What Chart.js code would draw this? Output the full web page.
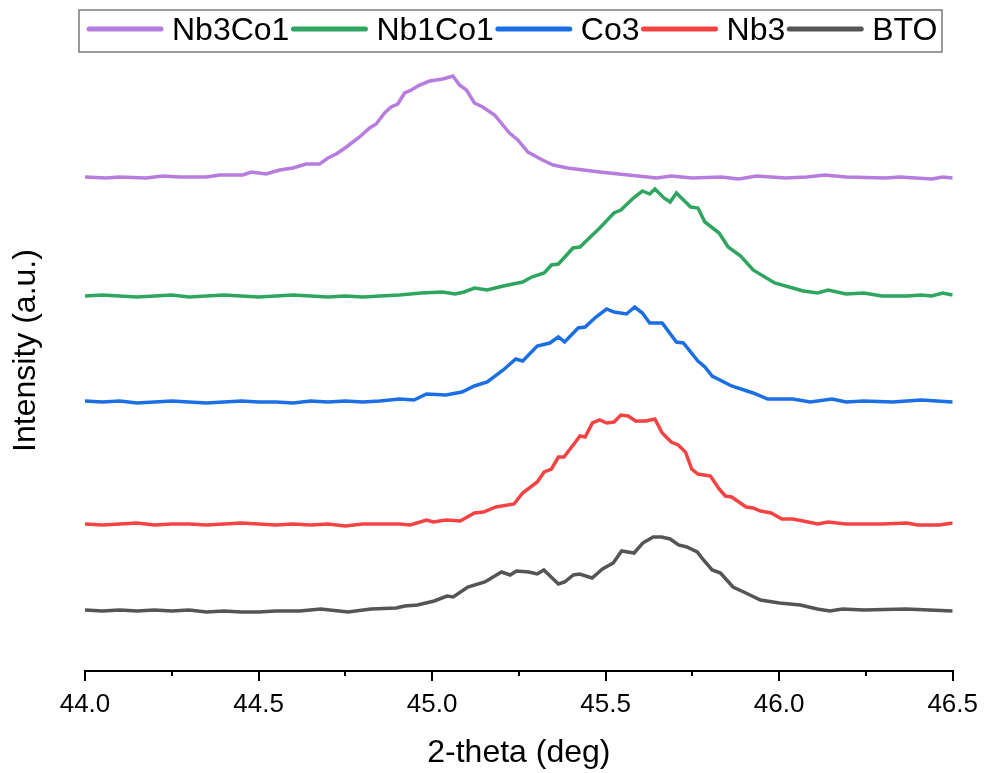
<!DOCTYPE html>
<html>
<head>
<meta charset="utf-8">
<script src="https://cdn.jsdelivr.net/npm/chart.js"></script>
<style>
  html, body { margin: 0; padding: 0; background: #fff; }
  #wrap { width: 986px; height: 773px; }
</style>
</head>
<body>
<div id="wrap"><canvas id="xrd" width="986" height="773"></canvas></div>
<script>
// --- data (2-theta in deg, intensity in a.u. with the stacking offset already in) ---
const seriesNames = ["Nb3Co1", "Nb1Co1", "Co3", "Nb3", "BTO"];
const seriesColors = ["#b67ddf", "#2fa660", "#1c6fe2", "#f44343", "#555555"];

const nb3co1X = [44.000,44.061,44.099,44.176,44.224,44.272,44.349,44.388,44.455,44.479,44.522,44.561,44.599,44.637,44.676,44.700,44.724,44.753,44.791,44.820,44.839,44.863,44.882,44.901,44.921,44.940,44.964,44.993,45.012,45.031,45.060,45.079,45.099,45.122,45.146,45.180,45.223,45.247,45.276,45.318,45.349,45.390,45.483,45.565,45.647,45.689,45.750,45.833,45.884,45.935,46.018,46.080,46.131,46.193,46.306,46.347,46.440,46.471,46.500];
const nb3co1Y = [494,493,494,493,495,494,494,496,496,499,497,501,503,507,507,513,517,524,534,543,547,558,564,567,578,581,586,590,591,592,595,586,581,568,564,556,538,531,519,511,506,503,499,496,493,495,493,494,492,495,493,494,496,494,493,494,492,494,493];

const nb1co1X = [44.00,44.05,44.10,44.15,44.20,44.25,44.30,44.35,44.40,44.45,44.50,44.55,44.60,44.65,44.70,44.75,44.80,44.85,44.906,44.968,45.030,45.066,45.092,45.122,45.159,45.205,45.261,45.287,45.323,45.344,45.364,45.406,45.426,45.483,45.524,45.544,45.580,45.606,45.627,45.642,45.668,45.686,45.704,45.745,45.766,45.786,45.827,45.853,45.889,45.925,45.987,46.039,46.069,46.111,46.141,46.193,46.244,46.296,46.368,46.409,46.440,46.471,46.500];
const nb1co1Y = [375,376,375,374,375,376,374,375,376,375,374,375,376,375,374,375,374,375,376,378,379,377,379,383,381,385,389,394,398,406,407,423,424,443,458,461,473,480,477,482,473,469,478,464,463,449,438,424,415,401,388,383,380,378,381,377,378,375,375,376,375,378,376];

const co3X = [44.00,44.05,44.10,44.15,44.20,44.25,44.30,44.35,44.40,44.45,44.50,44.55,44.60,44.65,44.70,44.75,44.80,44.85,44.906,44.948,44.984,45.040,45.086,45.122,45.159,45.205,45.241,45.261,45.303,45.339,45.364,45.382,45.421,45.441,45.472,45.503,45.524,45.560,45.584,45.606,45.627,45.663,45.704,45.724,45.766,45.786,45.807,45.863,45.925,45.967,46.039,46.090,46.152,46.193,46.244,46.327,46.409,46.500];
const co3Y = [270,269,270,268,269,270,269,268,269,270,269,269,268,270,269,270,269,270,272,271,277,276,279,285,289,301,312,310,325,328,334,329,343,344,354,362,359,357,364,358,348,348,329,328,310,304,295,285,278,272,272,269,272,269,270,269,271,269];

const nb3X = [44.00,44.05,44.10,44.15,44.20,44.25,44.30,44.35,44.40,44.45,44.50,44.55,44.60,44.65,44.70,44.75,44.80,44.85,44.906,44.937,44.984,45.004,45.040,45.081,45.122,45.148,45.184,45.236,45.261,45.303,45.323,45.344,45.364,45.380,45.411,45.426,45.441,45.462,45.483,45.503,45.524,45.544,45.565,45.586,45.616,45.642,45.663,45.689,45.709,45.730,45.748,45.766,45.802,45.827,45.845,45.863,45.905,45.925,45.946,45.977,46.008,46.039,46.069,46.111,46.141,46.193,46.296,46.368,46.399,46.461,46.500];
const nb3Y = [147,146,147,148,146,147,147,146,147,148,147,146,147,146,147,145,147,147,147,146,151,149,151,150,158,159,164,167,178,189,199,202,214,214,228,235,234,248,251,248,249,256,255,250,250,252,238,229,226,219,202,197,195,182,175,174,164,163,160,158,152,152,150,147,149,147,147,148,146,146,148];

const btoX = [44.00,44.05,44.10,44.15,44.20,44.25,44.30,44.35,44.40,44.45,44.50,44.55,44.618,44.679,44.758,44.824,44.897,44.921,44.958,45.006,45.043,45.061,45.103,45.152,45.200,45.225,45.243,45.279,45.303,45.322,45.364,45.382,45.407,45.425,45.461,45.491,45.522,45.546,45.582,45.607,45.637,45.661,45.686,45.710,45.734,45.764,45.782,45.807,45.831,45.867,45.904,45.946,46.001,46.061,46.110,46.146,46.183,46.244,46.365,46.500];
const btoY = [61,60,61,60,61,60,61,59,60,59,59,60,60,62,59,62,63,65,66,70,75,74,84,89,99,96,100,99,97,101,87,89,96,97,93,102,108,120,118,128,134,134,132,126,124,119,111,101,98,84,78,71,68,66,62,60,62,61,62,60];

const xMin = 44.0, xMax = 46.5, xStep = 0.5;
const yMin = 0, yMax = 641;

// --- build datasets ---
const allX = [nb3co1X, nb1co1X, co3X, nb3X, btoX];
const allY = [nb3co1Y, nb1co1Y, co3Y, nb3Y, btoY];

const datasets = seriesNames.map((name, i) => ({
    label: name,
    data: allX[i].map((x, j) => ({ x: x, y: allY[i][j] })),
    borderColor: seriesColors[i],
    backgroundColor: seriesColors[i],
    borderWidth: 3.5,
    pointRadius: 0,
    tension: 0,
    fill: false
}));

const FONT = 'Arial, "Liberation Sans", sans-serif';

// legend drawn in a framed row, like the original plot
const framedLegend = {
    id: 'framedLegend',
    afterDraw(chart) {
        const ctx = chart.ctx;
        ctx.save();
        ctx.fillStyle = '#fff';
        ctx.fillRect(79, 10, 863, 42);
        ctx.strokeStyle = '#7a7a7a';
        ctx.lineWidth = 1.5;
        ctx.strokeRect(79, 10, 863, 42);
        ctx.font = '32px ' + FONT;
        ctx.textBaseline = 'alphabetic';
        let x = 87;
        chart.data.datasets.forEach(ds => {
            ctx.strokeStyle = ds.borderColor;
            ctx.lineWidth = 5;
            ctx.lineCap = 'round';
            ctx.beginPath();
            ctx.moveTo(x + 2, 29);
            ctx.lineTo(x + 74, 29);
            ctx.stroke();
            ctx.fillStyle = '#000';
            ctx.fillText(ds.label, x + 85, 40);
            x += 85 + ctx.measureText(ds.label).width + 2;
        });
        ctx.restore();
    }
};

// minor ticks half way between the labelled ones
const minorTicks = {
    id: 'minorTicks',
    afterDraw(chart) {
        const sc = chart.scales.x;
        const ctx = chart.ctx;
        ctx.save();
        ctx.strokeStyle = '#000';
        ctx.lineWidth = 2;
        for (let v = xMin + xStep / 2; v < xMax; v += xStep) {
            const px = Math.round(sc.getPixelForValue(v));
            ctx.beginPath();
            ctx.moveTo(px, sc.top);
            ctx.lineTo(px, sc.top + 5);
            ctx.stroke();
        }
        ctx.restore();
    }
};

new Chart(document.getElementById('xrd'), {
    type: 'line',
    data: { datasets: datasets },
    options: {
        responsive: false,
        animation: false,
        devicePixelRatio: 1,
        layout: { padding: { left: 0, right: 31, top: 30, bottom: 0 } },
        plugins: {
            legend: { display: false },
            tooltip: { enabled: false }
        },
        scales: {
            x: {
                type: 'linear',
                min: xMin,
                max: xMax,
                afterFit: (s) => { s.height = 102; },
                ticks: {
                    stepSize: xStep,
                    color: '#000',
                    font: { size: 26, family: FONT },
                    padding: 8,
                    maxRotation: 0,
                    callback: (v) => Number(v).toFixed(1)
                },
                grid: { display: true, drawOnChartArea: false, tickLength: 10, color: '#000', lineWidth: 2 },
                border: { display: true, color: '#000', width: 2 },
                title: {
                    display: true,
                    text: '2-theta (deg)',
                    color: '#000',
                    font: { size: 32, family: FONT },
                    padding: { top: 0, bottom: 1 }
                }
            },
            y: {
                min: yMin,
                max: yMax,
                afterFit: (s) => { s.width = 85; },
                ticks: { display: false },
                grid: { display: false },
                border: { display: false },
                title: {
                    display: true,
                    text: 'Intensity (a.u.)',
                    color: '#000',
                    font: { size: 32, family: FONT },
                    padding: { top: 7, bottom: 0 }
                }
            }
        }
    },
    plugins: [framedLegend, minorTicks]
});
</script>
</body>
</html>
